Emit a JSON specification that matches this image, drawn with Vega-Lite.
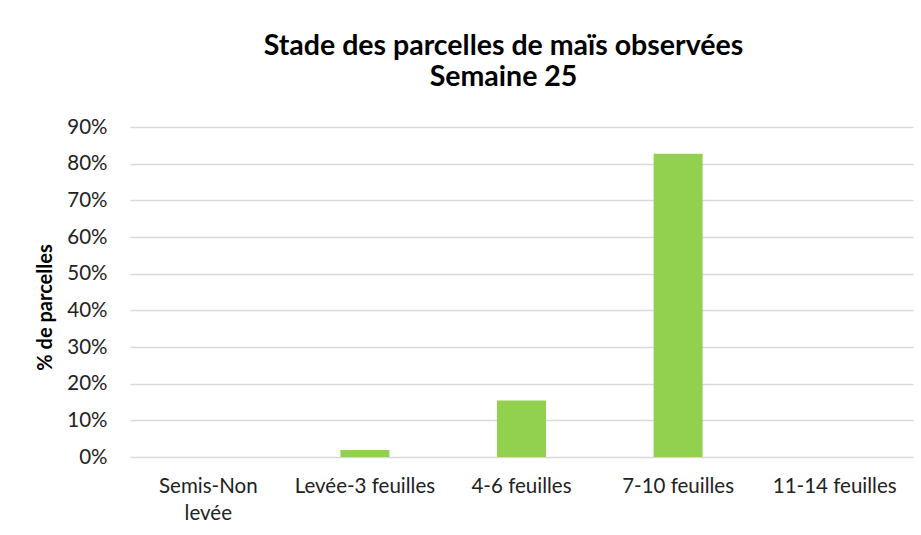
{
  "$schema": "https://vega.github.io/schema/vega-lite/v6.json",
  "width": 783,
  "height": 330,
  "autosize": {"type": "none"},
  "padding": {"left": 130, "top": 127, "right": 8, "bottom": 78},
  "background": "white",
  "title": {
    "text": ["Stade des parcelles de maïs observées", "Semaine 25"],
    "anchor": "middle",
    "frame": "group",
    "dx": -18,
    "fontSize": 28.5,
    "lineHeight": 31,
    "font": "Lato",
    "fontWeight": "bold",
    "color": "#000000",
    "offset": 26
  },
  "data": {
    "values": [
      {"stade": "Semis-Non levée", "pct": 0},
      {"stade": "Levée-3 feuilles", "pct": 0.0192},
      {"stade": "4-6 feuilles", "pct": 0.1538},
      {"stade": "7-10 feuilles", "pct": 0.8269},
      {"stade": "11-14 feuilles", "pct": 0}
    ]
  },
  "mark": {"type": "bar", "color": "#92D050"},
  "encoding": {
    "x": {
      "field": "stade",
      "type": "nominal",
      "sort": null,
      "scale": {"paddingInner": 0.687, "paddingOuter": 0.3435},
      "axis": {
        "title": null,
        "labelAngle": 0,
        "labelExpr": "datum.label == 'Semis-Non levée' ? ['Semis-Non', 'levée'] : datum.label",
        "labelPadding": 19,
        "labelLineHeight": 27,
        "labelBaseline": "top",
        "domain": false,
        "ticks": false,
        "grid": false
      }
    },
    "y": {
      "field": "pct",
      "type": "quantitative",
      "scale": {"domain": [0, 0.9], "nice": false},
      "axis": {
        "title": "% de parcelles",
        "values": [0, 0.1, 0.2, 0.3, 0.4, 0.5, 0.6, 0.7, 0.8, 0.9],
        "format": ".0%",
        "domain": false,
        "ticks": false,
        "grid": true,
        "gridColor": "#d9d9d9",
        "gridWidth": 1.3,
        "labelPadding": 23,
        "titleX": -85,
        "titleY": 180,
        "titleAlign": "center",
        "titleBaseline": "middle",
        "titleAngle": -90
      }
    }
  },
  "config": {
    "view": {"stroke": null},
    "axis": {
      "labelFont": "Lato",
      "labelFontSize": 20.5,
      "labelColor": "#222222",
      "titleFont": "Lato",
      "titleFontSize": 20,
      "titleFontWeight": "bold",
      "titleColor": "#000000"
    }
  }
}
